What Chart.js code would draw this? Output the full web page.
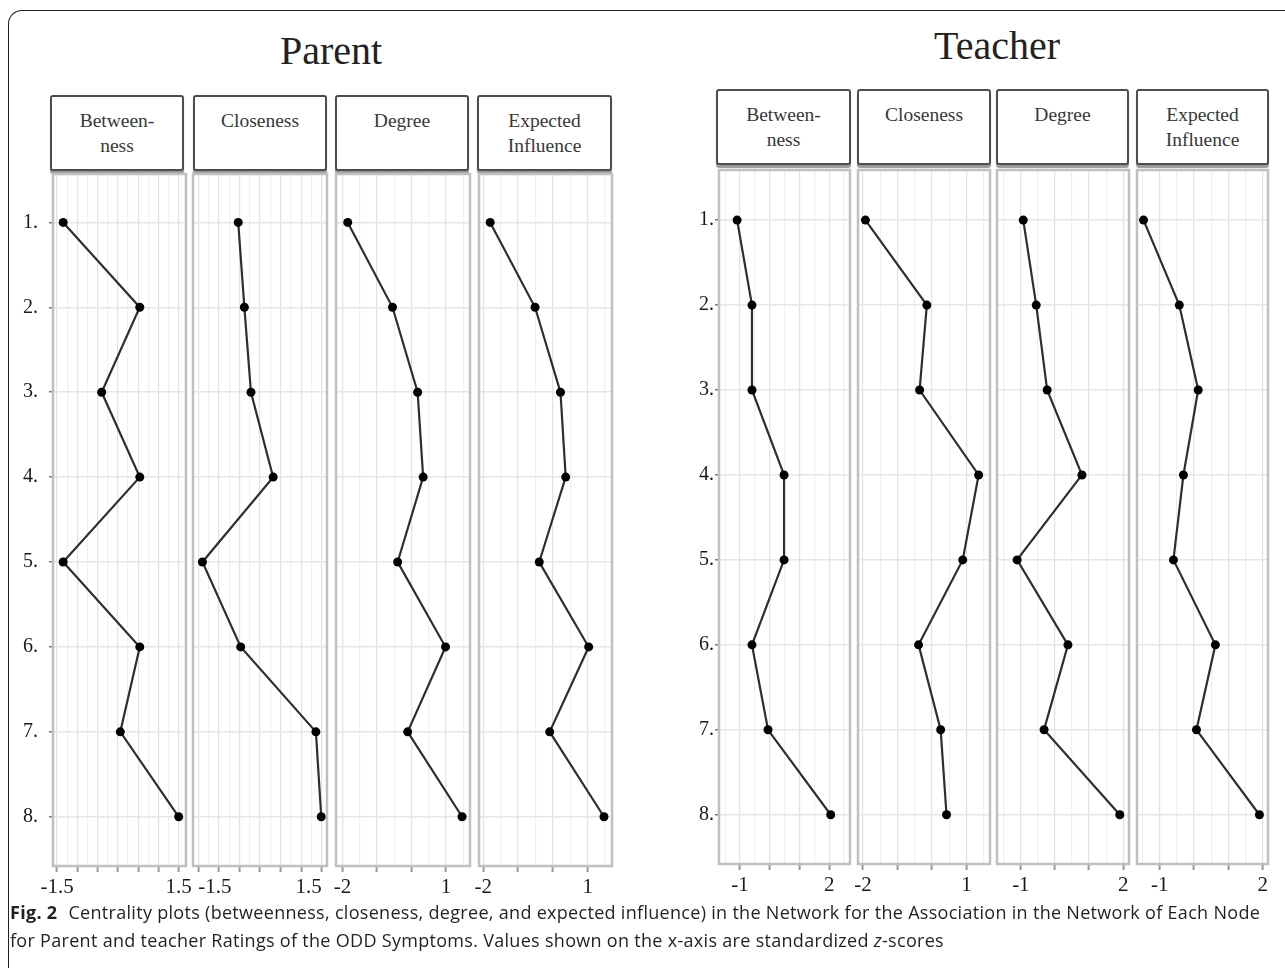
<!DOCTYPE html>
<html>
<head>
<meta charset="utf-8">
<script src="https://cdn.jsdelivr.net/npm/chart.js@4.4.1/dist/chart.umd.min.js"></script>
<style>
body { margin: 0; background: #fff; width: 1285px; height: 968px; overflow: hidden; position: relative; font-family: "Liberation Serif", "DejaVu Serif", serif; }
.frame { position: absolute; left: 8px; top: 10px; width: 1320px; height: 1000px; border-top: 1.5px solid #222; border-left: 1.5px solid #222; border-top-left-radius: 14px; }
.title { position: absolute; font-size: 40px; color: #222; transform: translate(-50%, -50%); white-space: nowrap; }
.strip { position: absolute; box-sizing: border-box; border: 2px solid #4d4d4d; border-radius: 3px; box-shadow: 0 3px 1px #9a9a9a; text-align: center; font-size: 19.5px; line-height: 25px; color: #383838; padding-top: 11px; background: #fff; }
canvas { position: absolute; }
.caption { position: absolute; left: 10px; top: 898px; font-family: "Open Sans", "Noto Sans", sans-serif; font-size: 18px; letter-spacing: 0.3px; line-height: 28px; color: #231f20; white-space: nowrap; }
.caption b { font-weight: 700; margin-right: 6px; }
</style>
</head>
<body>
<div class="frame"></div>
<div class="title" style="left:331px; top:50px;">Parent</div>
<div class="title" style="left:997px; top:45px;">Teacher</div>
<div id="strips"></div>
<canvas id="p0"></canvas><canvas id="p1"></canvas><canvas id="p2"></canvas><canvas id="p3"></canvas>
<canvas id="t0"></canvas><canvas id="t1"></canvas><canvas id="t2"></canvas><canvas id="t3"></canvas>
<div class="caption"><b>Fig. 2</b> Centrality plots (betweenness, closeness, degree, and expected influence) in the Network for the Association in the Network of Each Node<br>for Parent and teacher Ratings of the ODD Symptoms. Values shown on the x-axis are standardized <i>z</i>-scores</div>

<script>
// nodes (ODD symptoms) and the four centrality measures
const nodes = [1, 2, 3, 4, 5, 6, 7, 8];
const measures = ["Between-\nness", "Closeness", "Degree", "Expected\nInfluence"];

// parent ratings (z-scores)
const parentBetweenness = [-1.35, 0.54, -0.40, 0.54, -1.35, 0.54, 0.06, 1.50];
const parentCloseness   = [-0.53, -0.38, -0.22, 0.32, -1.40, -0.47, 1.36, 1.49];
const parentDegree      = [-1.85, -0.55, 0.18, 0.34, -0.40, 0.99, -0.11, 1.47];
const parentExpected    = [-1.80, -0.51, 0.22, 0.37, -0.39, 1.03, -0.09, 1.47];

// teacher ratings (z-scores)
const teacherBetweenness = [-1.10, -0.60, -0.60, 0.48, 0.48, -0.60, -0.06, 2.05];
const teacherCloseness   = [-1.93, -0.15, -0.36, 1.35, 0.89, -0.39, 0.25, 0.42];
const teacherDegree      = [-0.93, -0.55, -0.23, 0.79, -1.11, 0.38, -0.32, 1.90];
const teacherExpected    = [-1.47, -0.43, 0.12, -0.31, -0.60, 0.62, 0.07, 1.90];

// x tick marks per panel (only first and last are labelled)
const ticksHalf = [-1.5, -1, -0.5, 0, 0.5, 1, 1.5];
const ticksM2to1 = [-2, -1, 0, 1];
const ticksM1to2 = [-1, 0, 1, 2];

const panelFrame = {
    id: 'panelFrame',
    afterDraw(chart) {
        const a = chart.chartArea, c = chart.ctx;
        c.save();
        c.strokeStyle = '#c0c0c0';
        c.lineWidth = 2.5;
        c.strokeRect(a.left, a.top, a.right - a.left, a.bottom - a.top);
        c.restore();
    }
};

// first = null for inner panels, or {gap} for the panel carrying the node labels
function drawPanel(id, box, values, xMin, xMax, majors, yRange, first, align)
{
    const padL = first ? 5 : 30, padR = 30, padT = 30, padB = 4, xAxisH = 46;
    const yW = first ? 48 : 0;
    const cv = document.getElementById(id);
    cv.width = (box.r - box.l) + padL + padR + yW;
    cv.height = (box.b - box.t) + padT + padB + xAxisH;
    cv.style.left = (box.l - padL - yW) + "px";
    cv.style.top = (box.t - padT) + "px";

    // grid lines every half major step
    const half = (majors[1] - majors[0]) / 2;
    const grid = [];
    for (let v = Math.ceil(xMin / half) * half; v <= xMax + 1e-9; v += half) {
        grid.push(Math.round(v * 100) / 100);
    }
    const isMajor = (v) => majors.some(m => Math.abs(m - v) < 1e-6);
    const lo = majors[0], hi = majors[majors.length - 1];

    new Chart(cv, {
        type: 'scatter',
        data: {
            datasets: [{
                data: nodes.map((n, i) => ({ x: values[i], y: n })),
                showLine: true,
                borderColor: '#2e2e2e',
                borderWidth: 2.2,
                pointRadius: 4.5,
                pointBackgroundColor: '#000',
                pointBorderColor: '#000',
                pointBorderWidth: 0
            }]
        },
        options: {
            responsive: false,
            animation: false,
            events: [],
            layout: { padding: { left: padL, right: padR, top: padT, bottom: padB } },
            plugins: { legend: { display: false }, tooltip: { enabled: false } },
            scales: {
                x: {
                    type: 'linear',
                    min: xMin,
                    max: xMax,
                    afterBuildTicks: s => { s.ticks = grid.map(v => ({ value: v })); },
                    afterFit: s => { s.height = xAxisH; },
                    border: { display: false },
                    grid: {
                        color: c => isMajor(c.tick.value) ? '#e2e2e2' : '#f0f0f0',
                        tickColor: c => isMajor(c.tick.value) ? '#9a9a9a' : 'rgba(0,0,0,0)',
                        tickLength: 6,
                        tickWidth: 2,
                        lineWidth: 1.2
                    },
                    ticks: {
                        autoSkip: false,
                        maxRotation: 0,
                        align: align || 'center',
                        padding: 3,
                        color: '#1a1a1a',
                        font: { family: 'Liberation Serif', size: 21 },
                        callback: v => (Math.abs(v - lo) < 1e-6 || Math.abs(v - hi) < 1e-6) ? String(v) : ''
                    }
                },
                y: {
                    type: 'linear',
                    reverse: true,
                    min: yRange[0],
                    max: yRange[1],
                    afterBuildTicks: s => { s.ticks = nodes.map(v => ({ value: v })); },
                    afterFit: s => { s.width = yW; },
                    border: { display: false },
                    grid: { color: '#e6e6e6', lineWidth: 1.5, drawTicks: !!first, tickLength: 4, tickColor: '#777' },
                    ticks: {
                        display: !!first,
                        padding: first ? first.gap : 0,
                        color: '#1a1a1a',
                        font: { family: 'Liberation Serif', size: 20 },
                        callback: v => v + "."
                    }
                }
            }
        },
        plugins: [panelFrame]
    });
}

function addStrips(boxes, top)
{
    const holder = document.getElementById("strips");
    boxes.forEach((b, i) => {
        const d = document.createElement("div");
        d.className = "strip";
        d.style.left = b.l + "px";
        d.style.top = top + "px";
        d.style.width = (b.r - b.l) + "px";
        d.style.height = "76px";
        d.innerText = measures[i];
        holder.appendChild(d);
    });
}

const parentBoxes = [
    { l: 53, r: 186, t: 174, b: 866 },
    { l: 193, r: 327, t: 174, b: 866 },
    { l: 336, r: 470, t: 174, b: 866 },
    { l: 479, r: 612, t: 174, b: 866 }
];
const teacherBoxes = [
    { l: 719, r: 850, t: 170, b: 864 },
    { l: 858, r: 990, t: 170, b: 864 },
    { l: 997, r: 1129, t: 170, b: 864 },
    { l: 1137, r: 1268, t: 170, b: 864 }
];

addStrips([{ l: 50, r: 184 }, { l: 193, r: 327 }, { l: 335, r: 469 }, { l: 477, r: 612 }], 95);
addStrips([{ l: 716, r: 851 }, { l: 857, r: 991 }, { l: 996, r: 1129 }, { l: 1136, r: 1269 }], 89);

const yParent = [0.43, 8.58];
const yTeacher = [0.41, 8.58];

drawPanel("p0", parentBoxes[0], parentBetweenness, -1.6, 1.68, ticksHalf, yParent, { gap: 11 });
drawPanel("p1", parentBoxes[1], parentCloseness, -1.63, 1.63, ticksHalf, yParent, null, 'inner');
drawPanel("p2", parentBoxes[2], parentDegree, -2.19, 1.70, ticksM2to1, yParent, null);
drawPanel("p3", parentBoxes[3], parentExpected, -2.12, 1.70, ticksM2to1, yParent, null);

drawPanel("t0", teacherBoxes[0], teacherBetweenness, -1.71, 2.70, ticksM1to2, yTeacher, { gap: 1 });
drawPanel("t1", teacherBoxes[1], teacherCloseness, -2.145, 1.68, ticksM2to1, yTeacher, null);
drawPanel("t2", teacherBoxes[2], teacherDegree, -1.70, 2.17, ticksM1to2, yTeacher, null);
drawPanel("t3", teacherBoxes[3], teacherExpected, -1.66, 2.15, ticksM1to2, yTeacher, null);
</script>
</body>
</html>
